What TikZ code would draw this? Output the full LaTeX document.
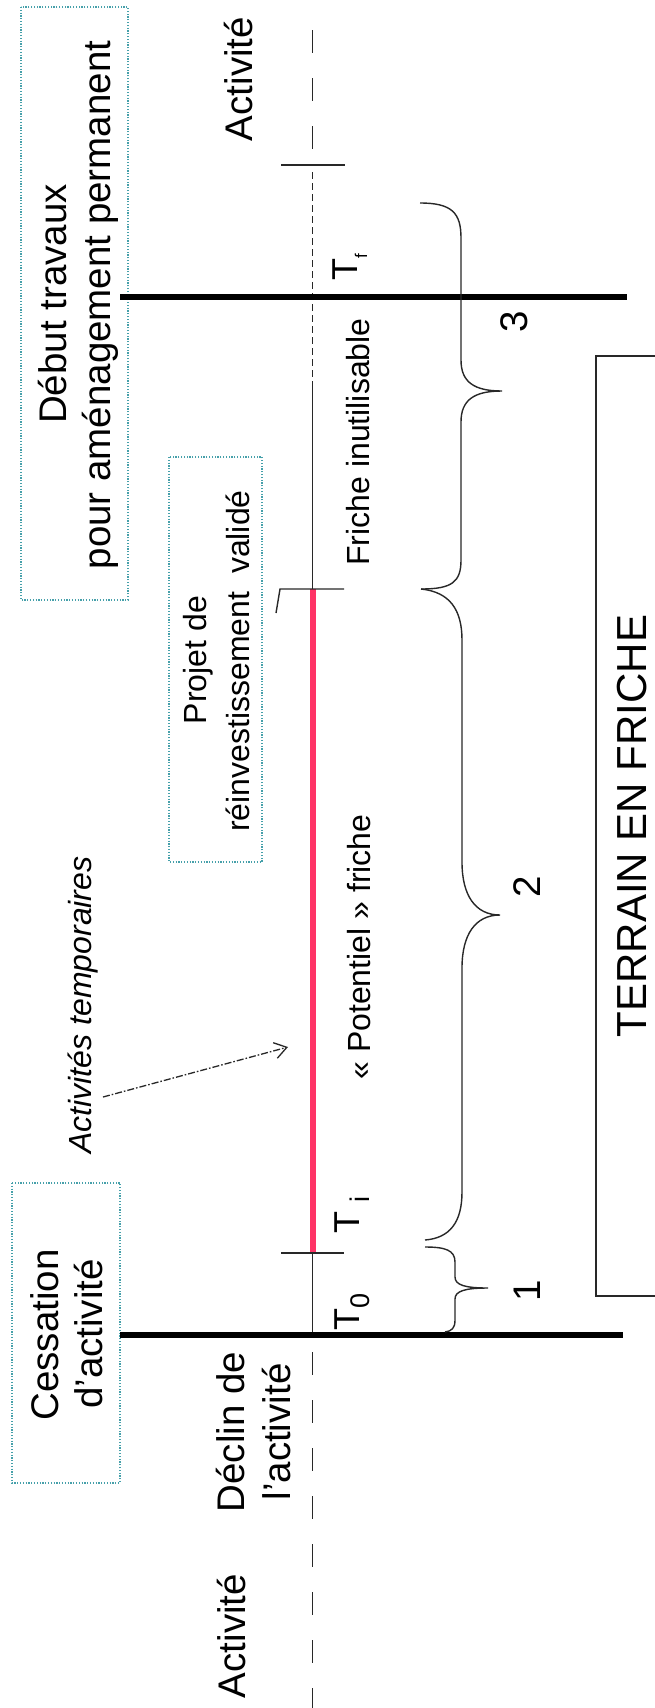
\documentclass[tikz,border=0pt]{standalone}
\usepackage{fontspec}
\setmainfont{Liberation Sans}
\usetikzlibrary{arrows.meta}

\definecolor{boxteal}{RGB}{70,160,170}
\definecolor{redbar}{RGB}{255,51,102}
\definecolor{inkgray}{RGB}{40,40,40}

\newcommand\szBig{\fontsize{19.25}{23}\selectfont}
\newcommand\szMid{\fontsize{16}{19}\selectfont}
\newcommand\szT{\fontsize{18}{21}\selectfont}
\newcommand\szSub{\fontsize{13.5}{15}\selectfont}
\newcommand\szTiny{\fontsize{8.5}{10}\selectfont}
\newcommand\szHuge{\fontsize{21}{25}\selectfont}

\begin{document}
\begin{tikzpicture}[x=0.5pt,y=-0.5pt,
  txt/.style={rotate=90,inner sep=0pt,anchor=base},
  big/.style={txt,font=\szBig},
  mid/.style={txt,font=\szMid},
  num/.style={txt,font=\szBig},
  bigcap/.style={txt,font=\szHuge},
  tlab/.style={rotate=90,inner sep=0pt,anchor=base west,font=\szT},
  notebox/.style={draw=boxteal,line width=0.8pt,dash pattern=on 0.6pt off 0.8pt},
  axisdash/.style={draw=inkgray,line width=0.75pt,dash pattern=on 11.5pt off 12.5pt},
  finedash/.style={draw=inkgray,line width=0.6pt,dash pattern=on 3.5pt off 2pt},
  axisline/.style={draw=inkgray,line width=0.6pt},
  tickline/.style={draw=inkgray,line width=0.7pt},
  milestone/.style={draw=black,line width=3.3pt},
  potbar/.style={draw=redbar,line width=3pt},
  brace/.style={draw=inkgray,line width=0.7pt},
  terrainbox/.style={draw=inkgray,line width=1pt},
  tmparrow/.style={draw=inkgray,line width=0.65pt,
    dash pattern=on 3.5pt off 1pt on 0.8pt off 1pt,
    -{Straight Barb[length=6pt,width=8pt]}}
]
\useasboundingbox (0,0) rectangle (654,1708);
\fill[white] (0,0) rectangle (654,1708);

% dotted teal note boxes
\draw[notebox] (21,7) rectangle (128,600);
\draw[notebox] (169,457) rectangle (262,862);
\draw[notebox] (12,1183) rectangle (120,1483);

% frame around the fallow-land caption (open on the right)
\draw[terrainbox] (660,356) -- (596,356) -- (596,1296) -- (660,1296);

% points on the time axis
\coordinate (axTop) at (312.5,30);
\coordinate (tA) at (312.5,165);
\coordinate (fineStart) at (312.5,172);
\coordinate (fineEnd) at (312.5,385);
\coordinate (tF) at (312.5,297);
\coordinate (tP) at (312.5,589);
\coordinate (tI) at (312.5,1253);
\coordinate (t0) at (312.5,1335);
\coordinate (axLow) at (312.5,1352);
\coordinate (axBot) at (312.5,1708);

% time axis
\draw[axisdash] (axTop) -- (tA);
\draw[finedash] (fineStart) -- (fineEnd);
\draw[axisline] (fineEnd) -- (tP);
\draw[axisline] (tI) -- (t0);
\draw[axisdash] (axLow) -- (axBot);
\draw[potbar] (tP) -- (tI);

% ticks
\coordinate (tAL) at (281,165);  \coordinate (tAR) at (345,165);
\coordinate (tPL) at (280,589);  \coordinate (tPR) at (344,589);
\coordinate (tPS) at (276,613);
\coordinate (tIL) at (281,1253); \coordinate (tIR) at (344,1253);
\draw[tickline] (tAL) -- (tAR);
\draw[tickline] (tPS) -- (tPL) -- (tPR);
\draw[tickline] (tIL) -- (tIR);

% milestone bars
\coordinate (tfL) at (120,297);
\coordinate (tfR) at (627,297);
\coordinate (t0L) at (120,1335);
\coordinate (t0R) at (623,1335);
\draw[milestone] (tfL) -- (tfR);
\draw[milestone] (t0L) -- (t0R);

% braces for the three periods
\draw[brace] (420,203) .. controls (452,203) and (461,213) .. (461,238)
  -- (461,360) .. controls (461,382) and (474,391) .. (502,391)
  .. controls (474,391) and (461,400) .. (461,422)
  -- (461,560) .. controls (461,582) and (452,589) .. (421,589);
\draw[brace] (421,589) .. controls (450,592) and (462,610) .. (462,640)
  -- (462,862) .. controls (462,895) and (475,915) .. (500,915)
  .. controls (475,915) and (462,935) .. (462,968)
  -- (462,1192) .. controls (462,1222) and (450,1238) .. (425,1240);
\draw[brace] (425,1247) .. controls (445,1247) and (455,1250) .. (455,1262)
  -- (455,1277) .. controls (455,1285) and (465,1288) .. (488,1288)
  .. controls (465,1288) and (455,1291) .. (455,1299)
  -- (455,1320) .. controls (455,1328) and (452,1331) .. (445,1332);

% temporary activities pointer
\coordinate (tmpA) at (103,1097);
\coordinate (tmpB) at (288,1047);
\draw[tmparrow] (tmpA) -- (tmpB);

% labels
\node[big] (actTop) at (252,79) {Activité};
\node[big] (actBot) at (245,1636) {Activité};
\node[big] (declin1) at (244,1432) {Déclin de};
\node[big] (declin2) at (290,1432) {l’activité};
\node[big] (cess1) at (58,1335) {Cessation};
\node[big] (cess2) at (102,1334) {d’activité};
\node[big] (debut1) at (66,304) {Début travaux};
\node[big] (debut2) at (110,305) {pour aménagement permanent};
\node[mid] (projet1) at (206,660) {Projet de};
\node[mid] (projet2) at (249,661) {réinvestissement\ \ validé};
\node[mid] (friche) at (369,442) {Friche inutilisable};
\node[mid] (potentiel) at (370,947) {« Potentiel » friche};
\node[mid,font=\szMid\itshape] (temp) at (91,1005) {Activités temporaires};
\node[num] (n3) at (527,322) {3};
\node[num] (n2) at (540,887) {2};
\node[num] (n1) at (540,1291) {1};
\node[bigcap] (terrain) at (646,826) {TERRAIN EN FRICHE};

\node[tlab] (Tf) at (357,281) {T\raisebox{-5pt}{\szTiny f}};
\node[tlab] (Ti) at (359,1234) {T\kern4.5pt\raisebox{-5pt}{\szSub i}};
\node[tlab] (T0) at (359,1331) {T\raisebox{-5pt}{\szSub 0}};
\end{tikzpicture}
\end{document}
